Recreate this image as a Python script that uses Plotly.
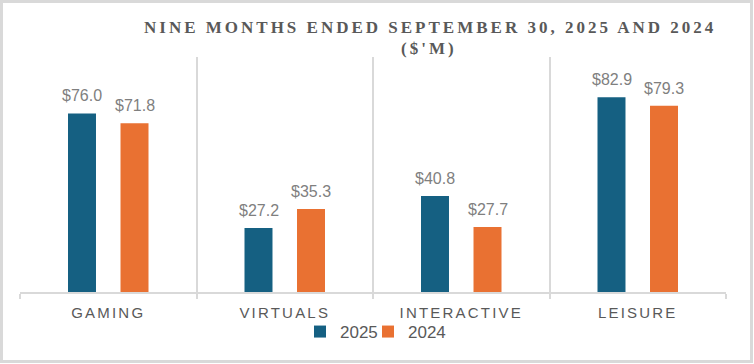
import plotly.graph_objects as go

categories = ["GAMING", "VIRTUALS", "INTERACTIVE", "LEISURE"]
values_2025 = [76.0, 27.2, 40.8, 82.9]
values_2024 = [71.8, 35.3, 27.7, 79.3]
series_names = ["2025", "2024"]
title_line1 = "NINE MONTHS ENDED SEPTEMBER 30, 2025 AND 2024"
title_line2 = "($'M)"

BLUE = "#156082"
ORANGE = "#E97132"
GRID = "#D9D9D9"
TEXT = "#595959"
LABEL = "#7F7F7F"

W, H = 754, 364
ML, MR, MT, MB = 20, 28, 57, 72
PW, PH = W - ML - MR, H - MT - MB
BARGAP = 0.405
BARGROUPGAP = 0.467


def spaced(s, px):
    return f'<span style="letter-spacing:{px}px">{s}</span>'


def px_x(p):
    return (p - ML) / PW


def px_y(p):
    return (H - MB - p) / PH


fig = go.Figure()
fig.add_trace(go.Bar(x=categories, y=values_2025, name=series_names[0],
                     marker=dict(color=BLUE, line=dict(width=0)), legend="legend"))
fig.add_trace(go.Bar(x=categories, y=values_2024, name=series_names[1],
                     marker=dict(color=ORANGE, line=dict(width=0)), legend="legend2"))

# data labels
off = (1 - BARGAP) / 4
for i in range(len(categories)):
    for v, dx in ((values_2025[i], -off), (values_2024[i], off)):
        fig.add_annotation(x=i + dx, y=v, xref="x", yref="y",
                           text=f"${v:.1f}", showarrow=False,
                           yanchor="bottom", yshift=7,
                           font=dict(family="Liberation Sans, Arial", size=16, color=LABEL))

# title
fig.add_annotation(x=px_x(430), y=px_y(28), xref="paper", yref="paper",
                   text=spaced(title_line1, 3), showarrow=False, xanchor="center", yanchor="middle",
                   font=dict(family="Liberation Serif, Times New Roman", size=17,
                             color=TEXT, weight="bold"))
fig.add_annotation(x=px_x(429), y=px_y(48), xref="paper", yref="paper",
                   text=spaced(title_line2, 3), showarrow=False, xanchor="center", yanchor="middle",
                   font=dict(family="Liberation Serif, Times New Roman", size=17,
                             color=TEXT, weight="bold"))

# outer border
fig.add_shape(type="rect", xref="paper", yref="paper",
              x0=px_x(1.5), x1=px_x(751.5), y0=px_y(361.5), y1=px_y(1.5),
              line=dict(color=GRID, width=3), fillcolor="rgba(0,0,0,0)", layer="below")

legend_common = dict(orientation="h", xanchor="left", yanchor="middle",
                     y=px_y(332), itemwidth=30,
                     font=dict(family="Liberation Sans, Arial", size=17, color=TEXT),
                     bgcolor="rgba(0,0,0,0)")

fig.update_layout(
    width=W, height=H,
    margin=dict(l=ML, r=MR, t=MT, b=MB),
    paper_bgcolor="white", plot_bgcolor="white",
    barmode="group", bargap=BARGAP, bargroupgap=BARGROUPGAP,
    showlegend=True,
    legend=dict(x=px_x(300), **legend_common),
    legend2=dict(x=px_x(368), **legend_common),
    xaxis=dict(type="category", tickson="boundaries", showgrid=True,
               gridcolor=GRID, gridwidth=2, showline=True, linecolor=GRID, linewidth=2,
               ticks="outside", ticklen=5, tickcolor=GRID, tickwidth=2,
               tickvals=categories, ticktext=[spaced(c, 2.2) for c in categories],
               ticklabelstandoff=6,
               tickfont=dict(family="Liberation Sans, Arial", size=15, color=TEXT),
               range=[-0.5, 3.5], fixedrange=True),
    yaxis=dict(range=[0, 100], showgrid=False, showticklabels=False,
               zeroline=False, showline=False, fixedrange=True),
)

fig.write_html("out.html", post_script="document.body.style.margin='0';",
               config={"displayModeBar": False})
